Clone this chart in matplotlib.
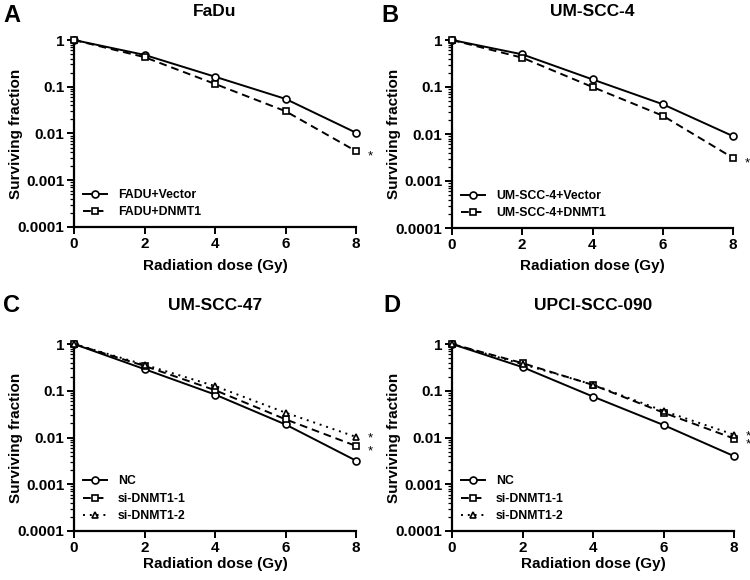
import matplotlib
matplotlib.use("Agg")
import matplotlib.pyplot as plt
from matplotlib.ticker import LogLocator, NullFormatter

plt.rcParams['font.family'] = ['Liberation Sans', 'DejaVu Sans']
plt.rcParams['font.weight'] = 'bold'

# --- data ---
dose = [0, 2, 4, 6, 8]

fadu_vector = [1.0, 0.48, 0.164, 0.055, 0.0104]
fadu_dnmt1  = [1.0, 0.43, 0.115, 0.030, 0.0042]

um4_vector = [1.0, 0.495, 0.145, 0.043, 0.009]
um4_dnmt1  = [1.0, 0.42, 0.100, 0.0245, 0.0031]

um47_nc  = [1.0, 0.29, 0.083, 0.019, 0.0032]
um47_si1 = [1.0, 0.34, 0.103, 0.0245, 0.0066]
um47_si2 = [1.0, 0.36, 0.126, 0.034, 0.0103]

upci_nc  = [1.0, 0.32, 0.075, 0.0185, 0.0040]
upci_si1 = [1.0, 0.39, 0.133, 0.034, 0.0095]
upci_si2 = [1.0, 0.37, 0.135, 0.037, 0.0115]

panels = [
    ("A", "FaDu", [("FADU+Vector", fadu_vector), ("FADU+DNMT1", fadu_dnmt1)], [1]),
    ("B", "UM-SCC-4", [("UM-SCC-4+Vector", um4_vector), ("UM-SCC-4+DNMT1", um4_dnmt1)], [1]),
    ("C", "UM-SCC-47", [("NC", um47_nc), ("si-DNMT1-1", um47_si1), ("si-DNMT1-2", um47_si2)], [1, 2]),
    ("D", "UPCI-SCC-090", [("NC", upci_nc), ("si-DNMT1-1", upci_si1), ("si-DNMT1-2", upci_si2)], [1, 2]),
]
styles = [("-", "o"), ((0, (4, 2.5)), "s"), ((0, (1, 2.5)), "^")]
# vertical nudge (points) of each asterisk, so close pairs do not sit on top of each other
star_dy = {1: -4, 2: -1}

W, H = 750, 580
fig = plt.figure(figsize=(W / 100, H / 100), dpi=100)
# axes box (left, top, width, height), letter y, title y, x-label y, y-label x  (pixels)
rects = [
    (74, 40, 282, 187, 15, 12, 266, 16),
    (452, 40, 281, 188, 15, 12, 266, 394),
    (74, 344, 282, 187, 305, 305, 564, 16),
    (452, 344, 282, 187, 305, 305, 564, 394),
]
letter_x = [12, 390, 12, 392]

for (letter, title, series, starred), (x0, y0, w, h, ly, ty, xly, ylx), lx in zip(panels, rects, letter_x):
    ax = fig.add_axes([x0 / W, (H - y0 - h) / H, w / W, h / H])
    for i, (label, vals) in enumerate(series):
        ls, mk = styles[i]
        ax.plot(dose, vals, color="black", linestyle=ls, linewidth=1.4,
                marker=mk, markersize=5, markerfacecolor="white",
                markeredgecolor="black", markeredgewidth=1.2,
                label=label, clip_on=False, zorder=3)
    for i in starred:
        ax.annotate("*", (dose[-1], series[i][1][-1]), xytext=(10, star_dy[i]),
                    textcoords="offset points", ha="center", va="center",
                    fontsize=9.5, fontweight="normal")

    ax.set_yscale("log")
    ax.set_ylim(0.0001, 1)
    ax.set_xlim(0, 8)
    ax.set_xticks([0, 2, 4, 6, 8])
    ax.set_yticks([1, 0.1, 0.01, 0.001, 0.0001])
    ax.set_yticklabels(["1", "0.1", "0.01", "0.001", "0.0001"])
    ax.yaxis.set_minor_locator(LogLocator(base=10, subs=range(2, 10)))
    ax.yaxis.set_minor_formatter(NullFormatter())
    for s in ["top", "right"]:
        ax.spines[s].set_visible(False)
    for s in ["left", "bottom"]:
        ax.spines[s].set_linewidth(1.6)
    ax.tick_params(axis="both", which="major", length=5, width=1.4,
                   labelsize=11, pad=2)
    ax.tick_params(axis="y", which="minor", length=3, width=0.9)
    for t in ax.get_xticklabels() + ax.get_yticklabels():
        t.set_fontweight("bold")

    ax.set_xlabel("Radiation dose (Gy)", fontsize=11, fontweight="bold")
    ax.set_ylabel("Surviving fraction", fontsize=11, fontweight="bold")
    ax.xaxis.set_label_coords(0.5, -(xly - y0 - h) / h)
    ax.yaxis.set_label_coords((ylx - x0) / w, 0.5)
    ax.xaxis.label.set_va("center")
    ax.yaxis.label.set_va("center")
    fig.text((x0 + w / 2) / W, 1 - ty / H, title, fontsize=12.5,
             fontweight="bold", ha="center", va="center")
    fig.text(lx / W, 1 - ly / H, letter, fontsize=17, fontweight="bold",
             ha="center", va="center")

    ax.legend(loc="lower left", bbox_to_anchor=(0.0, 0.0), frameon=False,
              fontsize=8.8, handlelength=2.0, handletextpad=0.9,
              labelspacing=0.45, borderaxespad=0.3)

fig.savefig("out.png", dpi=100)
